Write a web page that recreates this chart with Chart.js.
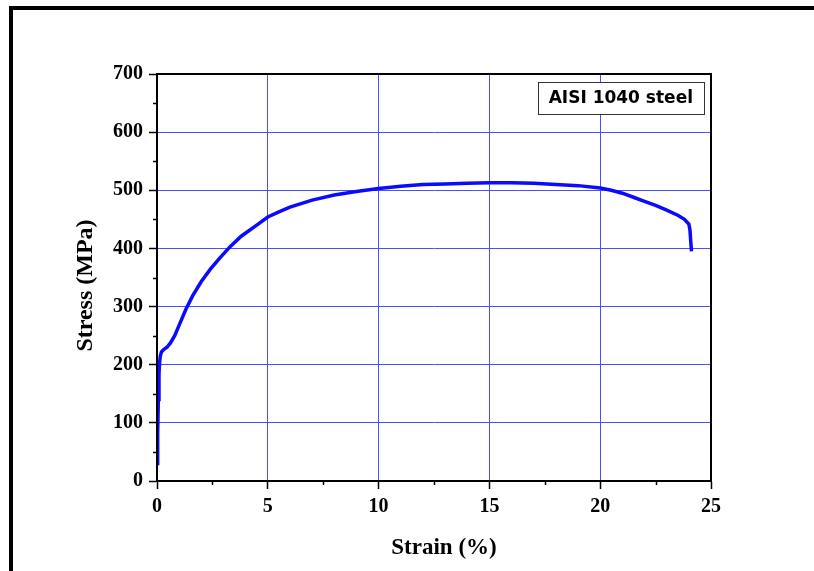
<!DOCTYPE html>
<html>
<head>
<meta charset="utf-8">
<script src="https://cdn.jsdelivr.net/npm/chart.js@4.4.1/dist/chart.umd.min.js"></script>
<style>
  html, body { margin: 0; padding: 0; background: #ffffff; }
  #wrap { position: relative; width: 814px; height: 571px; overflow: hidden; background: #ffffff; }
  #c { position: absolute; left: 0; top: 0; }
  #frame { position: absolute; left: 9px; top: 6px; right: -10px; bottom: -10px;
           border-left: 4px solid #000; border-top: 4px solid #000; pointer-events: none; }
</style>
</head>
<body>
<div id="wrap">
  <canvas id="c" width="814" height="571"></canvas>
  <div id="frame"></div>
</div>
<script>
// ---- data ----
const seriesLabel = "AISI 1040 steel";
const strainPct = [0, 0.03, 0.06, 0.09, 0.12, 0.15, 0.2, 0.3, 0.45, 0.6, 0.8, 1.0, 1.3, 1.6, 2.0, 2.4, 2.8, 3.3, 3.8, 4.5,
                   5.0, 5.5, 6.0, 7.0, 8.0, 9.0, 10.0, 11.0, 12.0, 13.0, 14.0, 15.0, 16.0, 17.0, 18.0, 19.0,
                   20.0, 20.5, 21.0, 21.5, 22.0, 22.5, 23.0, 23.5, 23.8, 24.0, 24.05, 24.08, 24.12];
const stressMPa = [30, 80, 140, 185, 205, 215, 222, 226, 230, 237, 250, 268, 295, 318, 343, 364, 382, 403, 421, 440,
                   454, 463, 471, 483, 492, 498, 503, 507, 510, 511, 512, 513, 513, 512, 510, 508,
                   504, 500, 495, 488, 481, 474, 466, 457, 450, 442, 432, 415, 395];
const xTickValues = [0, 5, 10, 15, 20, 25];
const yTickValues = [0, 100, 200, 300, 400, 500, 600, 700];
const xTitle = "Strain (%)";
const yTitle = "Stress (MPa)";

const points = strainPct.map((s, i) => ({ x: s, y: stressMPa[i] }));

const serif = "'Liberation Serif', 'Times New Roman', serif";
const gridBlue = "#4d4dff";

const frameAndMinor = {
  id: 'frameAndMinor',
  afterDraw(chart) {
    const { ctx, chartArea: ca, scales } = chart;
    ctx.save();
    // box around plot area (top and right edges)
    ctx.strokeStyle = '#000';
    ctx.lineWidth = 2;
    ctx.strokeRect(ca.left, ca.top, ca.right - ca.left, ca.bottom - ca.top);
    // minor ticks at midpoints between major ticks
    ctx.lineWidth = 1.5;
    ctx.beginPath();
    const yt = scales.y.ticks;
    for (let i = 0; i < yt.length - 1; i++) {
      const py = Math.round(scales.y.getPixelForValue((yt[i].value + yt[i + 1].value) / 2)) + 0.5;
      ctx.moveTo(ca.left - 4, py); ctx.lineTo(ca.left, py);
    }
    const xt = scales.x.ticks;
    for (let i = 0; i < xt.length - 1; i++) {
      const px = Math.round(scales.x.getPixelForValue((xt[i].value + xt[i + 1].value) / 2)) + 0.5;
      ctx.moveTo(px, ca.bottom); ctx.lineTo(px, ca.bottom + 4);
    }
    ctx.stroke();

    // axis titles
    ctx.fillStyle = '#000';
    ctx.textAlign = 'center';
    ctx.textBaseline = 'middle';
    ctx.font = "bold 23px " + serif;
    ctx.fillText(xTitle, (ca.left + ca.right) / 2 + 10, ca.bottom + 67);
    ctx.save();
    ctx.translate(ca.left - 71, (ca.top + ca.bottom) / 2 + 8);
    ctx.rotate(-Math.PI / 2);
    ctx.font = "bold 24px " + serif;
    ctx.fillText(yTitle, 0, 0);
    ctx.restore();

    // legend box
    const label = chart.data.datasets[0].label;
    ctx.font = "bold 17px 'DejaVu Sans', Verdana, sans-serif";
    const tw = ctx.measureText(label).width;
    const w = tw + 22, h = 32;
    const bx = ca.right - 7 - w, by = ca.top + 8;
    ctx.fillStyle = '#fff';
    ctx.fillRect(bx, by, w, h);
    ctx.strokeStyle = '#333';
    ctx.lineWidth = 1;
    ctx.strokeRect(Math.round(bx) + 0.5, Math.round(by) + 0.5, Math.round(w), h);
    ctx.fillStyle = '#000';
    ctx.fillText(label, bx + w / 2, by + h / 2 + 1);
    ctx.restore();
  }
};

new Chart(document.getElementById('c'), {
  type: 'line',
  data: {
    datasets: [{
      label: seriesLabel,
      data: points,
      borderColor: '#0a0aff',
      borderWidth: 3.5,
      pointRadius: 0,
      tension: 0,
      fill: false
    }]
  },
  options: {
    responsive: false,
    animation: false,
    layout: { padding: { left: 0, top: 74, right: 103, bottom: 0 } },
    plugins: { legend: { display: false }, tooltip: { enabled: false } },
    scales: {
      x: {
        type: 'linear',
        min: 0, max: 25,
        afterBuildTicks: (s) => { s.ticks = xTickValues.map(v => ({ value: v })); },
        afterFit: (s) => { s.height = 90; },
        grid: { color: (c) => (c.tick && c.tick.value === 0) ? 'rgba(0,0,0,0)' : gridBlue, lineWidth: 1,
                tickColor: '#000', tickLength: 8, tickWidth: 1.5 },
        border: { color: '#000', width: 2 },
        ticks: { color: '#000', padding: 6, maxRotation: 0, font: { family: serif, size: 20, weight: 'bold' } },
        title: { display: false }
      },
      y: {
        type: 'linear',
        min: 0, max: 700,
        afterBuildTicks: (s) => { s.ticks = yTickValues.map(v => ({ value: v })); },
        afterFit: (s) => { s.width = 157; },
        grid: { color: (c) => (c.tick && c.tick.value === 0) ? 'rgba(0,0,0,0)' : gridBlue, lineWidth: 1,
                tickColor: '#000', tickLength: 8, tickWidth: 1.5 },
        border: { color: '#000', width: 2 },
        ticks: { color: '#000', padding: 6, font: { family: serif, size: 20, weight: 'bold' } },
        title: { display: false }
      }
    }
  },
  plugins: [frameAndMinor]
});
</script>
</body>
</html>
